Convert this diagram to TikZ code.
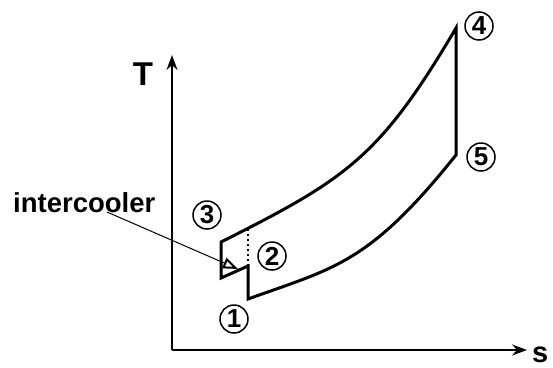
\documentclass[tikz,border=0pt]{standalone}
\usepackage{fontspec}
\setmainfont{Liberation Sans}
\usetikzlibrary{arrows.meta,positioning}
\tikzset{
  axisline/.style={line width=2pt,-{Stealth[length=15pt,width=11pt,inset=5pt]}},
  cycleline/.style={line width=3pt,line join=miter},
  statenum/.style={circle,draw,line width=1.5pt,inner sep=0pt,minimum size=28pt,font=\fontsize{26}{26}\selectfont\bfseries},
  axislabel/.style={font=\bfseries\fontsize{33}{33}\selectfont},
  pointer/.style={line width=1pt,-{Triangle[open,length=15pt,width=11pt,line width=2pt]}},
  dotline/.style={line width=1.2pt,dash pattern=on 2pt off 3pt}
}

\begin{document}
\begin{tikzpicture}[x=1pt,y=-1pt]
  \useasboundingbox (0,0) rectangle (553,367);
  % axes
  \coordinate (O) at (172,350);
  \coordinate (Ttip) at (172,55);
  \coordinate (stip) at (527,350);
  \draw[axisline] (O) -- (Ttip);
  \draw[axisline] (O) -- (stip);
  \node[axislabel,anchor=base] (Tlab) at (143,85) {\textbf{T}};
  \node[anchor=base west,inner sep=0pt,font=\bfseries\fontsize{29}{29}\selectfont] (slab) at (532,362) {\textbf{s}};
  % cycle states
  \coordinate (p1) at (248,299);
  \coordinate (p2) at (248,266);
  \coordinate (p2a) at (221,278);
  \coordinate (p3) at (221,242);
  \coordinate (p4) at (456,28);
  \coordinate (p5) at (456,155);
  \coordinate (p2top) at (248,229);
  \draw[cycleline] (p1) -- (p2) -- (p2a) -- (p3)
    .. controls (346.5,179) and (380,157) .. (p4) -- (p5)
    .. controls (369,263.7) and (335,267.7) .. cycle;
  \draw[dotline] (p2top) -- (p2);
  % state labels
  \node[statenum] (n1) at (234,319) {\textbf{1}};
  \node[statenum] (n2) at (272,256) {\textbf{2}};
  \node[statenum] (n3) at (207,215) {\textbf{3}};
  \node[statenum] (n4) at (479,26) {\textbf{4}};
  \node[statenum] (n5) at (481,157) {\textbf{5}};
  % intercooler pointer
  \node[anchor=base west,inner sep=0pt,font=\bfseries\fontsize{27.5}{27.5}\selectfont] (icool) at (13,212) {\textbf{intercooler}};
  \coordinate (ictip) at (238,269);
  \draw[pointer] (107,212) -- (ictip);
\end{tikzpicture}
\end{document}
